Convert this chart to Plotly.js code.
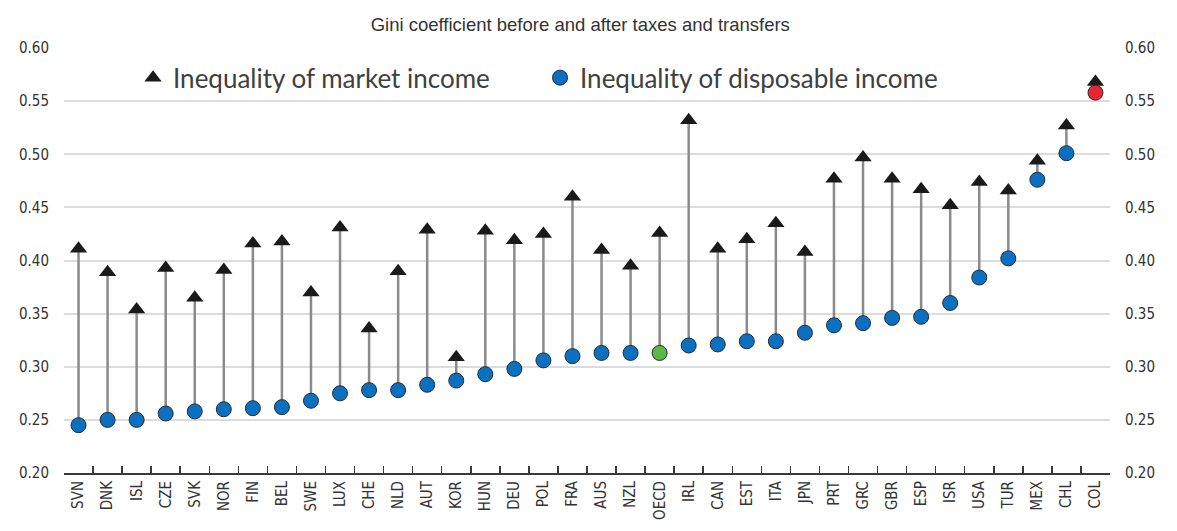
<!DOCTYPE html>
<html>
<head>
<meta charset="utf-8">
<script src="https://cdn.plot.ly/plotly-3.0.1.min.js"></script>
<style>html,body{margin:0;padding:0;background:#fff;}#chart{width:1177px;height:531px;}</style>
</head>
<body>
<div id="chart"></div>
<script>
const countries = ["SVN","DNK","ISL","CZE","SVK","NOR","FIN","BEL","SWE","LUX","CHE","NLD","AUT","KOR","HUN","DEU","POL","FRA","AUS","NZL","OECD","IRL","CAN","EST","ITA","JPN","PRT","GRC","GBR","ESP","ISR","USA","TUR","MEX","CHL","COL"];
const marketIncome = [0.411,0.389,0.354,0.393,0.365,0.391,0.416,0.418,0.370,0.431,0.336,0.390,0.429,0.309,0.428,0.419,0.425,0.460,0.410,0.395,0.426,0.532,0.411,0.420,0.435,0.408,0.477,0.497,0.477,0.467,0.452,0.474,0.466,0.494,0.527,0.568];
const disposableIncome = [0.245,0.250,0.250,0.256,0.258,0.260,0.261,0.262,0.268,0.275,0.278,0.278,0.283,0.287,0.293,0.298,0.306,0.310,0.313,0.313,0.313,0.320,0.321,0.324,0.324,0.332,0.339,0.341,0.346,0.347,0.360,0.384,0.402,0.476,0.501,0.558];
const yTicks = [0.20,0.25,0.30,0.35,0.40,0.45,0.50,0.55,0.60];

const highlight = {"OECD":"#5ab946","COL":"#e8262f"};
const dotColors = countries.map(c => highlight[c] || "#0a70bf");

// connector lines built from the data
const lx = [], ly = [];
countries.forEach((c,i) => { lx.push(c,c,null); ly.push(disposableIncome[i], marketIncome[i], null); });

const tickFont = {family:"'Liberation Sans Narrow','Arial Narrow','DejaVu Sans Condensed',sans-serif", size:15, color:"#333333"};

const traces = [
  {x:lx, y:ly, type:"scatter", mode:"lines", line:{color:"#8a8a8a", width:2.5}, showlegend:false, hoverinfo:"skip"},
  {x:countries, y:marketIncome, type:"scatter", mode:"markers", name:"Inequality of market income",
   marker:{symbol:"triangle-up", size:15, color:"#1a1a1a", line:{width:0}}},
  {x:countries, y:disposableIncome, type:"scatter", mode:"markers", name:"Inequality of disposable income",
   marker:{symbol:"circle", size:15, color:dotColors, line:{color:"#1f2d3a", width:1}}},
  {x:countries, y:disposableIncome, type:"scatter", mode:"markers", yaxis:"y2", showlegend:false, hoverinfo:"skip",
   marker:{opacity:0}}
];

const layout = {
  width:1177, height:531,
  margin:{l:64, r:67, t:48, b:58},
  paper_bgcolor:"#fff", plot_bgcolor:"#fff",
  title:{text:"Gini coefficient before and after taxes and transfers", x:0.493, xanchor:"center", y:0.953, yanchor:"middle",
         font:{family:"'Liberation Sans Narrow','Arial Narrow',sans-serif", size:18.5, color:"#333"}},
  xaxis:{type:"category", tickangle:-90, tickfont:tickFont, showgrid:false, showline:true, linecolor:"#3a3a3a", linewidth:2,
         ticks:"inside", ticklen:7, tickwidth:1.5, tickcolor:"#3a3a3a", tickson:"boundaries", range:[-0.5, countries.length-0.5], fixedrange:true},
  yaxis:{range:[0.2,0.6], tickvals:yTicks, tickformat:".2f", tickfont:tickFont, showgrid:true, gridcolor:"#dcdcdc", gridwidth:2,
         zeroline:false, showline:false, ticks:"", ticklabelstandoff:14},
  yaxis2:{range:[0.2,0.6], tickvals:yTicks, tickformat:".2f", tickfont:tickFont, overlaying:"y", side:"right", showgrid:false,
          zeroline:false, showline:false, ticks:"", ticklabelstandoff:14},
  legend:{orientation:"h", x:0.066, y:0.93, xanchor:"left", yanchor:"middle", bgcolor:"rgba(0,0,0,0)",
          font:{family:"Lato, 'Open Sans', sans-serif", size:26, color:"#404040"}, entrywidth:362, itemwidth:30},
  showlegend:true
};

Plotly.newPlot("chart", traces, layout, {displayModeBar:false, staticPlot:true});
</script>
</body>
</html>
